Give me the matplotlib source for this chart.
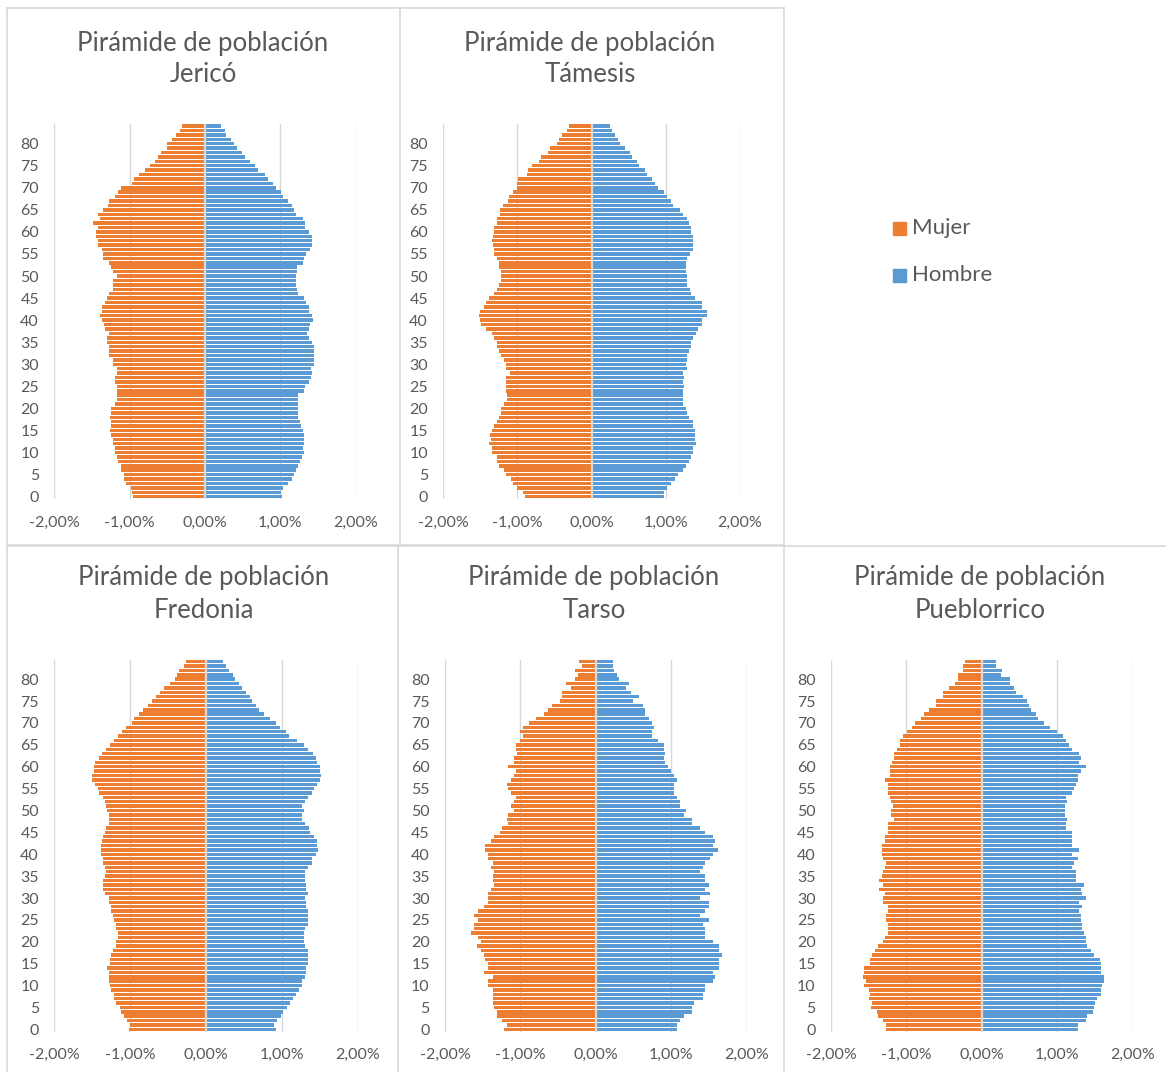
import numpy as np
import matplotlib
matplotlib.use("Agg")
import matplotlib.pyplot as plt
from matplotlib.patches import Rectangle
from matplotlib.lines import Line2D

plt.rcParams['font.family'] = ['Lato', 'DejaVu Sans']

# Ages listed from 84 (top) down to 0 (bottom); values in percent of total population
ages = list(range(84, -1, -1))

jerico_mujer = [0.30,0.33,0.39,0.44,0.50, 0.50,0.59,0.62,0.67,0.73, 0.80,0.87,0.94,0.97,1.11,
                1.16,1.19,1.28,1.29,1.36, 1.42,1.40,1.48,1.42,1.45, 1.44,1.42,1.42,1.37,1.35,
                1.35,1.28,1.25,1.22,1.17, 1.22,1.22,1.22,1.28,1.30, 1.33,1.37,1.37,1.39,1.37,
                1.34,1.33,1.28,1.30,1.30, 1.28,1.28,1.28,1.22,1.22, 1.17,1.17,1.20,1.19,1.17,
                1.17,1.17,1.17,1.20,1.25, 1.25,1.26,1.25,1.25,1.26, 1.25,1.22,1.22,1.20,1.19,
                1.17,1.16,1.12,1.11,1.08, 1.08,1.05,0.98,0.97,0.96]
jerico_hombre = [0.21,0.26,0.28,0.35,0.38, 0.42,0.49,0.53,0.60,0.66, 0.70,0.80,0.83,0.90,0.94,
                 1.01,1.04,1.10,1.15,1.18, 1.21,1.30,1.33,1.33,1.38, 1.42,1.42,1.42,1.40,1.34,
                 1.31,1.30,1.22,1.22,1.21, 1.21,1.21,1.22,1.24,1.31, 1.34,1.38,1.38,1.42,1.43,
                 1.40,1.38,1.36,1.38,1.42, 1.44,1.45,1.44,1.45,1.44, 1.41,1.42,1.41,1.38,1.33,
                 1.31,1.24,1.24,1.24,1.24, 1.24,1.24,1.26,1.28,1.30, 1.31,1.31,1.31,1.30,1.31,
                 1.29,1.26,1.24,1.21,1.18, 1.15,1.10,1.04,1.01,1.02]

tamesis_mujer = [0.31,0.33,0.40,0.44,0.47, 0.56,0.59,0.68,0.71,0.80, 0.86,0.87,0.99,1.00,1.00,
                 1.06,1.11,1.13,1.20,1.24, 1.24,1.28,1.28,1.32,1.32, 1.33,1.34,1.33,1.32,1.32,
                 1.28,1.25,1.25,1.22,1.22, 1.22,1.25,1.27,1.32,1.38, 1.42,1.45,1.51,1.52,1.50,
                 1.49,1.42,1.34,1.31,1.28, 1.28,1.25,1.22,1.18,1.16, 1.15,1.10,1.15,1.15,1.15,
                 1.15,1.14,1.14,1.18,1.22, 1.22,1.25,1.28,1.31,1.34, 1.37,1.36,1.38,1.34,1.34,
                 1.28,1.28,1.25,1.18,1.15, 1.09,1.06,1.00,0.92,0.90]
tamesis_hombre = [0.25,0.28,0.32,0.35,0.38, 0.45,0.52,0.55,0.61,0.64, 0.72,0.75,0.81,0.86,0.90,
                  0.97,1.02,1.07,1.10,1.19, 1.23,1.28,1.31,1.34,1.34, 1.36,1.37,1.37,1.36,1.32,
                  1.28,1.27,1.27,1.27,1.28, 1.28,1.29,1.32,1.34,1.40, 1.49,1.49,1.55,1.55,1.49,
                  1.49,1.43,1.41,1.36,1.34, 1.34,1.31,1.28,1.28,1.27, 1.28,1.23,1.25,1.23,1.25,
                  1.23,1.23,1.23,1.23,1.27, 1.28,1.31,1.36,1.37,1.40, 1.40,1.40,1.41,1.36,1.36,
                  1.34,1.31,1.27,1.23,1.16, 1.13,1.07,1.01,0.98,0.98]

fredonia_mujer = [0.27,0.29,0.36,0.38,0.41, 0.48,0.56,0.61,0.66,0.71, 0.77,0.83,0.88,0.95,0.98,
                  1.05,1.11,1.16,1.21,1.27, 1.32,1.37,1.41,1.46,1.48, 1.48,1.50,1.50,1.47,1.43,
                  1.41,1.36,1.33,1.32,1.30, 1.28,1.28,1.28,1.32,1.33, 1.36,1.37,1.39,1.39,1.39,
                  1.36,1.36,1.33,1.32,1.33, 1.36,1.36,1.36,1.33,1.28, 1.28,1.25,1.25,1.23,1.21,
                  1.19,1.18,1.16,1.16,1.19, 1.19,1.23,1.25,1.27,1.27, 1.30,1.28,1.28,1.28,1.27,
                  1.25,1.21,1.21,1.18,1.14, 1.12,1.08,1.04,1.00,1.02]
fredonia_hombre = [0.22,0.26,0.30,0.35,0.38, 0.44,0.47,0.53,0.58,0.61, 0.66,0.70,0.77,0.85,0.92,
                   0.97,1.06,1.10,1.20,1.29, 1.34,1.41,1.45,1.46,1.50, 1.50,1.52,1.50,1.46,1.43,
                   1.40,1.34,1.31,1.27,1.29, 1.27,1.27,1.31,1.36,1.37, 1.43,1.46,1.46,1.48,1.45,
                   1.40,1.40,1.34,1.31,1.31, 1.31,1.32,1.32,1.34,1.31, 1.32,1.32,1.34,1.34,1.34,
                   1.34,1.31,1.29,1.29,1.29, 1.31,1.34,1.34,1.34,1.34, 1.32,1.32,1.31,1.27,1.27,
                   1.22,1.19,1.15,1.11,1.07, 1.02,0.99,0.93,0.90,0.92]

tarso_mujer = [0.22,0.19,0.27,0.24,0.27, 0.40,0.33,0.45,0.45,0.48, 0.58,0.63,0.69,0.79,0.88,
               0.97,1.00,0.97,1.00,1.06, 1.06,1.04,1.09,1.09,1.17, 1.06,1.09,1.13,1.18,1.17,
               1.13,1.06,1.09,1.13,1.09, 1.17,1.18,1.17,1.25,1.27, 1.35,1.39,1.47,1.47,1.43,
               1.43,1.36,1.39,1.35,1.36, 1.36,1.35,1.39,1.43,1.43, 1.43,1.48,1.56,1.61,1.56,
               1.61,1.61,1.65,1.56,1.52, 1.57,1.52,1.48,1.47,1.43, 1.43,1.48,1.36,1.43,1.43,
               1.36,1.36,1.36,1.36,1.35, 1.31,1.31,1.25,1.18,1.22]
tarso_hombre = [0.23,0.23,0.24,0.28,0.31, 0.44,0.40,0.46,0.57,0.49, 0.62,0.65,0.65,0.71,0.74,
                0.77,0.74,0.74,0.83,0.90, 0.91,0.92,0.91,0.92,0.96, 1.00,1.03,1.08,1.03,1.04,
                1.04,1.08,1.12,1.12,1.20, 1.17,1.28,1.28,1.38,1.45, 1.55,1.58,1.55,1.62,1.55,
                1.51,1.45,1.42,1.38,1.45, 1.45,1.50,1.45,1.51,1.38, 1.50,1.50,1.45,1.38,1.50,
                1.42,1.45,1.45,1.45,1.55, 1.63,1.63,1.67,1.63,1.63, 1.63,1.55,1.58,1.55,1.45,
                1.45,1.42,1.42,1.30,1.28, 1.28,1.17,1.12,1.08,1.08]

pueblorrico_mujer = [0.22,0.25,0.25,0.31,0.32, 0.36,0.43,0.51,0.51,0.61, 0.61,0.70,0.77,0.81,0.89,
                     0.93,0.99,1.04,1.08,1.09, 1.13,1.16,1.16,1.19,1.22, 1.22,1.22,1.29,1.25,1.25,
                     1.25,1.22,1.20,1.18,1.20, 1.20,1.16,1.25,1.25,1.25, 1.28,1.29,1.33,1.33,1.33,
                     1.31,1.27,1.29,1.31,1.33, 1.36,1.31,1.36,1.29,1.31, 1.31,1.25,1.25,1.27,1.27,
                     1.25,1.25,1.25,1.29,1.31, 1.38,1.42,1.45,1.48,1.48, 1.56,1.56,1.58,1.53,1.56,
                     1.50,1.48,1.50,1.45,1.47, 1.39,1.38,1.31,1.27,1.27]
pueblorrico_hombre = [0.19,0.19,0.27,0.26,0.37, 0.37,0.43,0.45,0.54,0.60, 0.63,0.65,0.72,0.75,0.83,
                      0.90,1.00,1.08,1.12,1.16, 1.20,1.29,1.32,1.29,1.38, 1.31,1.27,1.27,1.25,1.22,
                      1.19,1.12,1.13,1.10,1.10, 1.10,1.13,1.12,1.12,1.20, 1.19,1.19,1.20,1.29,1.20,
                      1.27,1.22,1.20,1.25,1.25, 1.25,1.36,1.31,1.33,1.38, 1.29,1.33,1.29,1.31,1.31,
                      1.33,1.33,1.36,1.38,1.38, 1.40,1.45,1.49,1.56,1.58, 1.58,1.58,1.62,1.62,1.59,
                      1.58,1.58,1.53,1.50,1.49, 1.47,1.40,1.38,1.27,1.27]

municipios = ["Jericó", "Támesis", "Fredonia", "Tarso", "Pueblorrico"]
mujer = [jerico_mujer, tamesis_mujer, fredonia_mujer, tarso_mujer, pueblorrico_mujer]
hombre = [jerico_hombre, tamesis_hombre, fredonia_hombre, tarso_hombre, pueblorrico_hombre]

y_ticks = list(range(0, 81, 5))
x_ticks = [-2, -1, 0, 1, 2]
series_labels = ["Mujer", "Hombre"]

ORANGE = "#ED7D31"
BLUE = "#5B9BD5"
GRID = "#D9D9D9"
TEXT = "#595959"

W, H = 1166, 1072
fig = plt.figure(figsize=(W / 100, H / 100), dpi=100)
fig.patch.set_facecolor("white")

# plot-area boxes in pixels: (x_left, x_right, y_top, y_bottom)
boxes = [
    (54.3, 355.7, 123.8, 498.9),
    (443.3, 740.0, 123.8, 498.9),
    (54.3, 357.7, 659.5, 1031.5),
    (445.0, 746.7, 659.5, 1031.5),
    (831.0, 1132.7, 659.5, 1031.5),
]
title_pos = [(203, 43, 75), (590, 43, 75), (204, 578, 611), (594, 578, 611), (980, 578, 611)]


def fmt_pct(v):
    return ("%.2f%%" % v).replace(".", ",")


for i, name in enumerate(municipios):
    x0, x1, y0, y1 = boxes[i]
    ax = fig.add_axes([x0 / W, 1 - y1 / H, (x1 - x0) / W, (y1 - y0) / H])
    ax.barh(ages, [-v for v in mujer[i]], height=0.78, color=ORANGE, zorder=2)
    ax.barh(ages, hombre[i], height=0.78, color=BLUE, zorder=2)
    ax.set_xlim(-2, 2)
    ax.set_ylim(-0.5, 84.5)
    for g in [-2, -1, 1, 2]:
        ax.axvline(g, color=GRID, lw=1.0, zorder=1)
    ax.axvline(0, color=GRID, lw=1.6, zorder=3)
    for s in ax.spines.values():
        s.set_visible(False)
    ax.set_yticks(y_ticks)
    ax.set_yticklabels([str(t) for t in y_ticks])
    ax.set_xticks(x_ticks)
    ax.set_xticklabels([fmt_pct(t) for t in x_ticks])
    ax.tick_params(axis="y", length=0, pad=11, labelsize=11.5, labelcolor=TEXT)
    ax.tick_params(axis="x", length=0, pad=12, labelsize=11.5, labelcolor=TEXT)
    ax.set_facecolor("none")
    tx, ty1, ty2 = title_pos[i]
    fig.text(tx / W, 1 - ty1 / H, "Pirámide de población", ha="center", va="center",
             fontsize=18.5, color=TEXT)
    fig.text(tx / W, 1 - ty2 / H, name, ha="center", va="center", fontsize=18.5, color=TEXT)

# chart borders
def hline(x0, x1, y):
    fig.add_artist(Line2D([x0 / W, x1 / W], [1 - y / H, 1 - y / H], color=GRID, lw=1.2))

def vline(x, y0, y1):
    fig.add_artist(Line2D([x / W, x / W], [1 - y0 / H, 1 - y1 / H], color=GRID, lw=1.2))

hline(7, 784, 8)
hline(7, 784, 545)
vline(7, 8, 545)
vline(400, 8, 545)
vline(784, 8, 545)
hline(7, 1166, 546)
vline(7, 546, 1072)
vline(398, 546, 1072)
vline(784, 546, 1072)

# legend
for lab, col, cy in [(series_labels[0], ORANGE, 228), (series_labels[1], BLUE, 275)]:
    fig.add_artist(Rectangle(((893) / W, 1 - (cy + 6.5) / H), 13 / W, 13 / H,
                             transform=fig.transFigure, color=col))
    fig.text(912 / W, 1 - cy / H, lab, ha="left", va="center", fontsize=16, color=TEXT)

fig.savefig("out.png", dpi=100, facecolor="white")
